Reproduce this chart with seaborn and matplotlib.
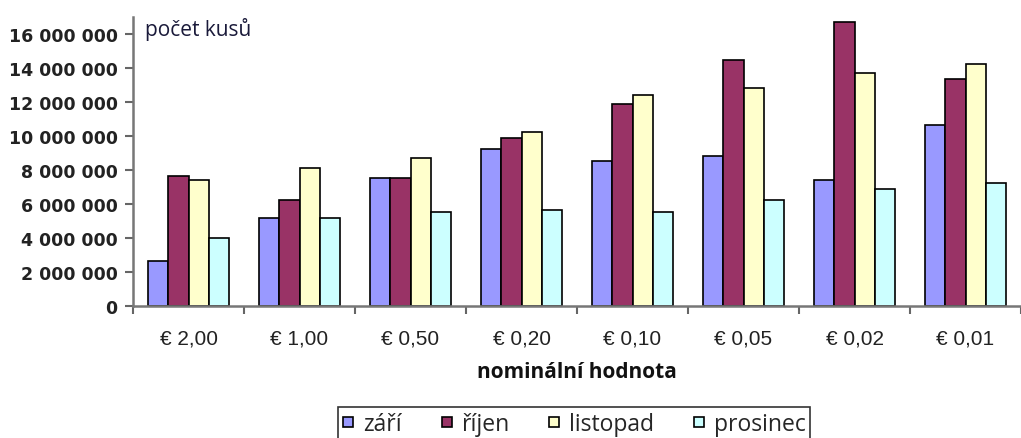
import matplotlib
matplotlib.use("Agg")
import matplotlib.pyplot as plt
import matplotlib.ticker as mticker
from matplotlib.font_manager import FontProperties
from matplotlib.lines import Line2D
import numpy as np
import pandas as pd
import seaborn as sns

# Denominations of euro coins
categories = ["€ 2,00", "€ 1,00", "€ 0,50", "€ 0,20", "€ 0,10", "€ 0,05", "€ 0,02", "€ 0,01"]
months = ["září", "říjen", "listopad", "prosinec"]

# Number of coins per month
zari = [2620000, 5200000, 7550000, 9230000, 8540000, 8820000, 7390000, 10670000]
rijen = [7640000, 6220000, 7550000, 9910000, 11900000, 14470000, 16700000, 13330000]
listopad = [7390000, 8090000, 8680000, 10240000, 12430000, 12800000, 13700000, 14210000]
prosinec = [4000000, 5200000, 5550000, 5650000, 5550000, 6220000, 6860000, 7230000]

colors = ["#9999FF", "#993366", "#FFFFCC", "#CCFFFF"]

series = [zari, rijen, listopad, prosinec]
df = pd.DataFrame({
    "nominal": np.repeat([categories], len(months), axis=0).ravel(),
    "mesic": np.repeat(months, len(categories)),
    "kusy": np.concatenate(series),
})

sns.set_style("white")
plt.rcParams["font.family"] = ["DejaVu Sans"]

fig = plt.figure(figsize=(10.21, 4.39), dpi=100)
ax = fig.add_axes([133 / 1021, 1 - 307 / 439, 1 - 133 / 1021, (307 - 18) / 439])

sns.barplot(data=df, x="nominal", y="kusy", hue="mesic", order=categories,
            hue_order=months, palette=colors, width=0.73, gap=0,
            edgecolor="black", linewidth=1.2, saturation=1, ax=ax, legend=False)

ax.set_ylim(0, 17e6)
ax.set_xlim(-0.5, 7.41)
ax.yaxis.set_major_locator(mticker.MultipleLocator(2e6))
ax.yaxis.set_major_formatter(mticker.FuncFormatter(
    lambda v, p: f"{int(v):,}".replace(",", " ")))

# Ticks on the boundaries between categories, labels in the middle
ax.set_xticks(np.arange(-0.5, 8.0, 1.0))
ax.set_xticklabels([])
ax.set_xticks(np.arange(len(categories)), minor=True)
ax.set_xticklabels(categories, minor=True,
                   family=["Liberation Sans Narrow", "Liberation Sans", "DejaVu Sans"],
                   fontsize=15, color="#222222")
ax.tick_params(axis="x", which="major", direction="out", length=6, width=1.5,
               color="#666666", bottom=True)
ax.tick_params(axis="x", which="minor", length=0, pad=16)
ax.tick_params(axis="y", direction="out", length=6, width=1.5, color="#666666",
               left=True, labelsize=12.5, pad=5)
for lab in ax.get_yticklabels():
    lab.set_fontweight("bold")
    lab.set_color("#222222")

for side in ["top", "right"]:
    ax.spines[side].set_visible(False)
for side in ["left", "bottom"]:
    ax.spines[side].set_color("#777777")
    ax.spines[side].set_linewidth(1.8)

ax.set_ylabel("")
ax.set_xlabel("nominální hodnota", family=["Open Sans", "DejaVu Sans"],
              fontweight="bold", fontsize=15, labelpad=10, color="#111111")

ax.text(0.013, 1.0, "počet kusů", transform=ax.transAxes, ha="left", va="top",
        family=["Open Sans", "DejaVu Sans"], fontsize=15, color="#1a1a3a")

# Small square swatches for the legend
handles = [Line2D([], [], linestyle="none", marker="s", markersize=7,
                  markerfacecolor=c, markeredgecolor="black", markeredgewidth=1.2)
           for c in colors]
legend_font = FontProperties(family=["Open Sans", "DejaVu Sans"], size=16.5)
leg = fig.legend(handles, months, loc="upper left",
                 bbox_to_anchor=(338 / 1021, 1 - 408 / 439), ncol=4,
                 frameon=True, fancybox=False, edgecolor="black",
                 handlelength=0.5, handletextpad=0.4,
                 columnspacing=1.7, borderpad=0.2, borderaxespad=0,
                 prop=legend_font)
leg.get_frame().set_linewidth(1.2)

fig.savefig("out.png", dpi=100)
